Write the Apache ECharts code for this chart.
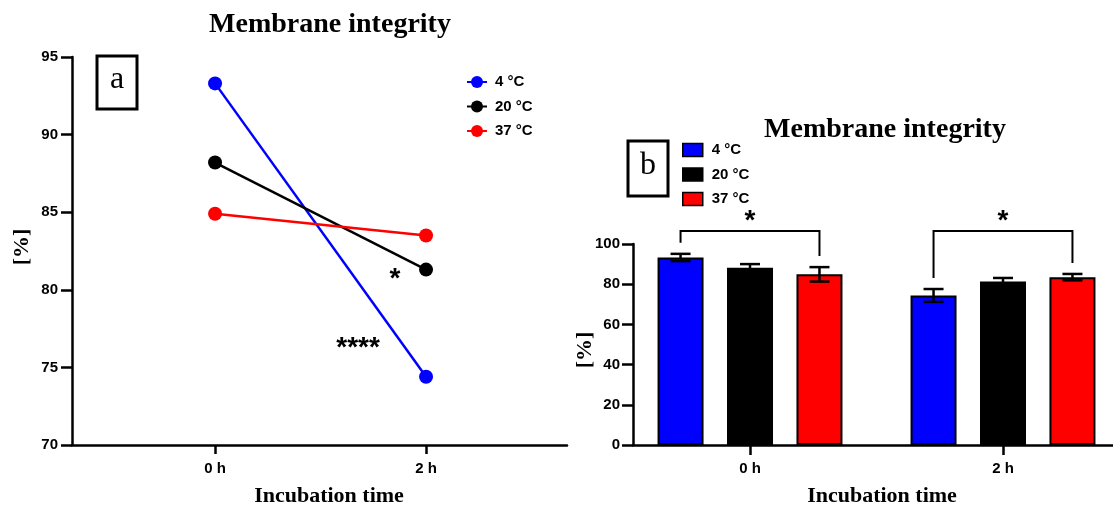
<!DOCTYPE html>
<html><head><meta charset="utf-8">
<script src="https://cdn.jsdelivr.net/npm/echarts@6/dist/echarts.min.js"></script>
<style>html,body{margin:0;padding:0;background:#fff}#c{width:1113px;height:510px}</style>
</head><body><div id="c"></div>
<script>
// ---------- data ----------
const categories = ['0 h', '2 h'];
const seriesNames = ['4 °C', '20 °C', '37 °C'];
const mean4 = [93.3, 74.4];
const mean20 = [88.2, 81.3];
const mean37 = [84.9, 83.5];
const sd4 = [1.8, 3.2];
const sd20 = [1.8, 1.8];
const sd37 = [3.6, 1.6];
const yTicksA = [70, 75, 80, 85, 90, 95];
const yTicksB = [0, 20, 40, 60, 80, 100];
// significance annotations (panel a: anchored to a point; panel b: bracket between two series)
const sigA = [{series: 1, cat: 1, text: '*'}, {series: 0, cat: 1, text: '****'}];
const sigB = [{cat: 0, from: 0, to: 2, text: '*'}, {cat: 1, from: 0, to: 2, text: '*'}];

// ---------- style / layout ----------
const colors = ['#0000ff', '#000000', '#ff0000'];
const means = [mean4, mean20, mean37];
const sds = [sd4, sd20, sd37];
const SANS = '"Liberation Sans", Arial, sans-serif';
const SERIF = '"Liberation Serif", "Times New Roman", serif';
const BAR_W = 46, BAR_GAP = 0.51;
const sigAOffset = [[-31, 10], [-68, -28]];
const axisLineStyle = {color: '#000', width: 2.5};
const tickLabel = {color: '#000', fontWeight: 'bold', fontSize: 15, fontFamily: SANS};

const chart = echarts.init(document.getElementById('c'), null, {renderer: 'canvas'});

function catLabel(v) { return categories[Math.round(v)]; }

const series = [];
// panel a: lines
seriesNames.forEach((n, s) => {
  series.push({
    type: 'line', name: n, xAxisIndex: 0, yAxisIndex: 0,
    data: means[s].map((v, i) => [i, v]),
    symbol: 'circle', symbolSize: 14,
    lineStyle: {width: 2.5, color: colors[s]},
    itemStyle: {color: colors[s]},
    z: 3
  });
});
// panel a: annotations
series.push({
  type: 'custom', xAxisIndex: 0, yAxisIndex: 0, silent: true, z: 5,
  data: sigA.map((a, k) => [a.cat, means[a.series][a.cat], k]),
  renderItem(params, api) {
    const p = api.coord([api.value(0), api.value(1)]);
    const k = api.value(2);
    return {type: 'text', x: p[0] + sigAOffset[k][0], y: p[1] + sigAOffset[k][1],
      style: {text: sigA[k].text, font: 'bold 28px ' + SANS, fill: '#000', align: 'center', verticalAlign: 'middle', textAlign: 'center', textVerticalAlign: 'middle'}};
  }
});
// panel b: bars
seriesNames.forEach((n, s) => {
  series.push({
    type: 'bar', name: n, xAxisIndex: 1, yAxisIndex: 1,
    data: means[s].map((v, i) => [i, v]),
    barWidth: BAR_W, barGap: (BAR_GAP * 100) + '%',
    itemStyle: {color: colors[s], borderColor: '#000', borderWidth: 2},
    z: 2
  });
});
const spacing = BAR_W * (1 + BAR_GAP);
// panel b: error bars
const errData = [];
seriesNames.forEach((n, s) => means[s].forEach((v, i) => errData.push([i, v, sds[s][i], s])));
series.push({
  type: 'custom', xAxisIndex: 1, yAxisIndex: 1, silent: true, z: 4,
  data: errData,
  renderItem(params, api) {
    const x = api.value(0), m = api.value(1), sd = api.value(2), s = api.value(3);
    const c = api.coord([x, m]);
    const cx = c[0] + (s - 1) * spacing;
    const top = api.coord([x, m + sd])[1];
    const bot = api.coord([x, m - sd])[1];
    const st = {stroke: '#000', lineWidth: 2.5};
    return {type: 'group', children: [
      {type: 'line', shape: {x1: cx, y1: top, x2: cx, y2: bot}, style: st},
      {type: 'line', shape: {x1: cx - 10, y1: top, x2: cx + 10, y2: top}, style: st},
      {type: 'line', shape: {x1: cx - 10, y1: bot, x2: cx + 10, y2: bot}, style: st}
    ]};
  }
});
// panel b: significance brackets
series.push({
  type: 'custom', xAxisIndex: 1, yAxisIndex: 1, silent: true, z: 4,
  data: sigB.map((b, k) => [b.cat, k]),
  renderItem(params, api) {
    const cat = api.value(0), k = api.value(1);
    const b = sigB[k];
    const base = api.coord([cat, 0]);
    const xl = base[0] + (b.from - 1) * spacing;
    const xr = base[0] + (b.to - 1) * spacing;
    const yTop = api.coord([cat, yTicksB[yTicksB.length - 1]])[1] - 13;
    const yl = api.coord([cat, means[b.from][cat] + sds[b.from][cat]])[1] - 11;
    const yr = api.coord([cat, means[b.to][cat] + sds[b.to][cat]])[1] - 11;
    const st = {stroke: '#000', lineWidth: 2, fill: 'none'};
    return {type: 'group', children: [
      {type: 'polyline', shape: {points: [[xl, yl], [xl, yTop], [xr, yTop], [xr, yr]]}, style: st},
      {type: 'text', x: (xl + xr) / 2, y: yTop - 10,
        style: {text: b.text, font: 'bold 28px ' + SANS, fill: '#000', align: 'center', verticalAlign: 'middle', textAlign: 'center', textVerticalAlign: 'middle'}}
    ]};
  }
});

function txt(text, x, y, font, rot) {
  return {type: 'text', x: x, y: y, rotation: rot || 0, silent: true,
    style: {text: text, x: 0, y: 0, font: font, fill: '#000', align: 'center', verticalAlign: 'middle', textAlign: 'center', textVerticalAlign: 'middle'}};
}

const option = {
  backgroundColor: '#fff',
  animation: false,
  grid: [
    {left: 72, top: 57, width: 495, height: 388},
    {left: 633, top: 244, width: 480, height: 201}
  ],
  xAxis: [
    {type: 'value', gridIndex: 0, min: -0.678, max: 1.668,
      axisLine: {onZero: false, lineStyle: axisLineStyle},
      axisTick: {customValues: [0, 1], length: 9, lineStyle: axisLineStyle},
      axisLabel: Object.assign({customValues: [0, 1], formatter: catLabel, margin: 16}, tickLabel),
      splitLine: {show: false}},
    {type: 'value', gridIndex: 1, min: -0.4625, max: 1.4348,
      axisLine: {onZero: false, lineStyle: axisLineStyle},
      axisTick: {customValues: [0, 1], length: 10, lineStyle: axisLineStyle},
      axisLabel: Object.assign({customValues: [0, 1], formatter: catLabel, margin: 16}, tickLabel),
      splitLine: {show: false}}
  ],
  yAxis: [
    {type: 'value', gridIndex: 0, min: yTicksA[0], max: yTicksA[yTicksA.length - 1], interval: yTicksA[1] - yTicksA[0],
      axisLine: {show: true, onZero: false, lineStyle: axisLineStyle},
      axisTick: {show: true, length: 11, lineStyle: axisLineStyle},
      axisLabel: Object.assign({margin: 14}, tickLabel),
      splitLine: {show: false}},
    {type: 'value', gridIndex: 1, min: yTicksB[0], max: yTicksB[yTicksB.length - 1], interval: yTicksB[1] - yTicksB[0],
      axisLine: {show: true, onZero: false, lineStyle: axisLineStyle},
      axisTick: {show: true, length: 11, lineStyle: axisLineStyle},
      axisLabel: Object.assign({margin: 13}, tickLabel),
      splitLine: {show: false}}
  ],
  legend: [
    {orient: 'vertical', left: 466, top: 74.5, itemWidth: 20, itemHeight: 15, itemGap: 9.5, padding: 0,
      data: seriesNames,
      textStyle: {color: '#000', fontWeight: 'bold', fontSize: 15, fontFamily: SANS, padding: [0, 0, 0, 3]}},
    {orient: 'vertical', left: 682, top: 142.5, itemWidth: 20, itemHeight: 13, itemGap: 9.5, padding: 0,
      data: seriesNames.map((n, i) => ({name: n, icon: 'rect', itemStyle: {color: colors[i], borderColor: '#000', borderWidth: 1.5}})),
      textStyle: {color: '#000', fontWeight: 'bold', fontSize: 15, fontFamily: SANS, padding: [0, 0, 0, 4]}}
  ],
  graphic: [
    txt('Membrane integrity', 330, 25, 'bold 28px ' + SERIF),
    txt('Membrane integrity', 885, 130, 'bold 28px ' + SERIF),
    txt('Incubation time', 329, 496, 'bold 22px ' + SERIF),
    txt('Incubation time', 882, 496, 'bold 22px ' + SERIF),
    txt('[%]', 22, 247, 'bold 22px ' + SERIF, Math.PI / 2),
    txt('[%]', 585, 350, 'bold 22px ' + SERIF, Math.PI / 2),
    {type: 'rect', shape: {x: 97, y: 56, width: 40, height: 53}, style: {fill: 'none', stroke: '#000', lineWidth: 3}, silent: true},
    txt('a', 117, 80, '32px ' + SERIF),
    {type: 'rect', shape: {x: 628, y: 141, width: 40, height: 55}, style: {fill: 'none', stroke: '#000', lineWidth: 3}, silent: true},
    txt('b', 648, 166, '32px ' + SERIF)
  ],
  series: series
};
chart.setOption(option);
</script></body></html>
